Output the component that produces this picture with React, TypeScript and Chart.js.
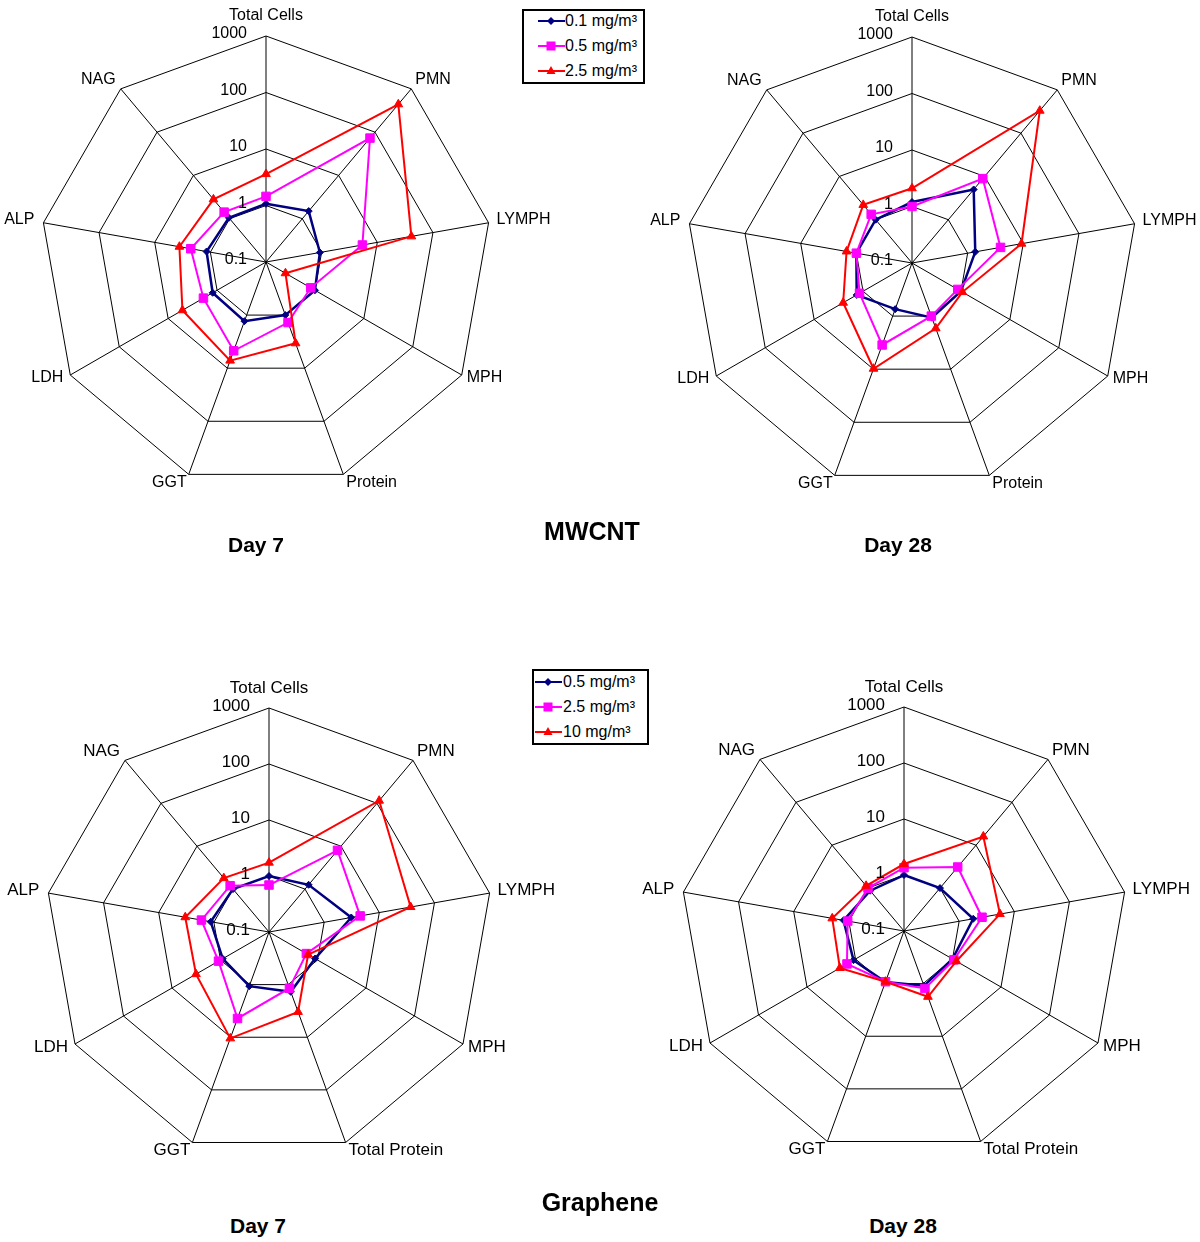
import React, { useEffect, useRef } from "react";
import { Chart, registerables } from "chart.js";

Chart.register(...registerables);

// ---------- data ----------
const CATEGORIES_MWCNT = ["Total Cells", "PMN", "LYMPH", "MPH", "Protein", "GGT", "LDH", "ALP", "NAG"];
const CATEGORIES_GRAPHENE = ["Total Cells", "PMN", "LYMPH", "MPH", "Total Protein", "GGT", "LDH", "ALP", "NAG"];

const TICK_VALUES = [0.1, 1, 10, 100, 1000];

const LEGEND_MWCNT = ["0.1 mg/m³", "0.5 mg/m³", "2.5 mg/m³"];
const LEGEND_GRAPHENE = ["0.5 mg/m³", "2.5 mg/m³", "10 mg/m³"];

// MWCNT, Day 7
const MWCNT_D7_LOW = [1.07, 1.5, 0.93, 1.0, 1.0, 1.3, 1.23, 1.17, 1.05];
const MWCNT_D7_MID = [1.45, 73, 5.4, 0.82, 1.38, 4.7, 1.9, 2.25, 1.42];
const MWCNT_D7_HIGH = [3.6, 440, 41, 0.25, 3.4, 7.2, 5.1, 3.6, 2.8];

// MWCNT, Day 28
const MWCNT_D28_LOW = [1.2, 5.0, 1.37, 1.0, 1.07, 0.74, 1.35, 1.0, 1.0];
const MWCNT_D28_MID = [1.0, 8.9, 3.9, 0.86, 1.0, 3.5, 1.18, 1.0, 1.33];
const MWCNT_D28_HIGH = [2.1, 330, 9.3, 1.07, 1.7, 9.8, 2.55, 1.5, 2.2];

// Graphene, Day 7
const GRAPHENE_D7_LOW = [1.0, 1.26, 3.1, 0.89, 1.37, 1.07, 0.9, 1.14, 1.0];
const GRAPHENE_D7_MID = [0.69, 8.0, 4.5, 0.59, 1.17, 4.4, 1.1, 1.68, 1.2];
const GRAPHENE_D7_HIGH = [1.73, 115, 37, 0.64, 3.3, 10.5, 3.2, 3.3, 1.8];

// Graphene, Day 28
const GRAPHENE_D28_LOW = [1.0, 1.0, 1.8, 1.0, 1.1, 0.93, 1.1, 1.25, 0.87];
const GRAPHENE_D28_MID = [1.35, 3.1, 2.6, 1.07, 1.24, 0.92, 1.5, 1.05, 1.0];
const GRAPHENE_D28_HIGH = [1.57, 16, 5.5, 1.2, 1.78, 0.92, 2.1, 2.0, 1.13];

// ---------- styles ----------
const FONT = '"Liberation Sans", Arial, Helvetica, sans-serif';
const SERIES_STYLE = [
  { color: "#000080", pointStyle: "rectRot", radius: 3.5, width: 2.5, order: 2 },
  { color: "#FF00FF", pointStyle: "rect", radius: 6, width: 2, order: 1 },
  { color: "#FF0000", pointStyle: "triangle", radius: 5, width: 2, order: 0 },
];

const LABEL_OFFSETS = [
  { align: "center", dx: 0, dy: -20 },
  { align: "left", dx: 4, dy: -9 },
  { align: "left", dx: 8, dy: -3 },
  { align: "left", dx: 5, dy: 3 },
  { align: "left", dx: 3, dy: 8 },
  { align: "right", dx: -2, dy: 8 },
  { align: "right", dx: -7, dy: 3 },
  { align: "right", dx: -9, dy: -3 },
  { align: "right", dx: -5, dy: -9 },
];

const logLabelsPlugin = {
  id: "logLabels",
  afterDraw(chart: any, _args: any, opts: any) {
    const s = chart.scales.r;
    const ctx = chart.ctx;
    ctx.save();
    ctx.fillStyle = "#000";
    ctx.font = `${opts.fontSize}px ${FONT}`;
    ctx.textBaseline = "middle";
    ctx.textAlign = "right";
    TICK_VALUES.forEach((v) => {
      const d = s.getDistanceFromCenterForValue(Math.log10(v));
      ctx.fillText(String(v), s.xCenter - 19, s.yCenter - d - 2);
    });
    chart.data.labels.forEach((lab: string, i: number) => {
      const p = s.getPointPosition(i, s.drawingArea);
      const o = LABEL_OFFSETS[i];
      ctx.textAlign = o.align;
      ctx.fillText(lab, p.x + o.dx, p.y + o.dy);
    });
    ctx.restore();
  },
};

const W = 600;
const H = 560;

function RadarPanel(props: {
  cx: number;
  cy: number;
  radius: number;
  fontSize: number;
  categories: string[];
  names: string[];
  series: number[][];
}) {
  const ref = useRef<HTMLCanvasElement | null>(null);
  const { cx, cy, radius, fontSize, categories, names, series } = props;
  useEffect(() => {
    const padX = (W - 2 * radius) / 2;
    const padY = (H - 2 * radius) / 2;
    const chart = new Chart(ref.current as HTMLCanvasElement, {
      type: "radar",
      data: {
        labels: categories,
        datasets: series.map((vals, k) => ({
          label: names[k],
          data: vals.map((v) => Math.log10(v)),
          borderColor: SERIES_STYLE[k].color,
          backgroundColor: SERIES_STYLE[k].color,
          pointBackgroundColor: SERIES_STYLE[k].color,
          pointBorderColor: SERIES_STYLE[k].color,
          pointStyle: SERIES_STYLE[k].pointStyle as any,
          pointRadius: SERIES_STYLE[k].radius,
          pointBorderWidth: 1,
          borderWidth: SERIES_STYLE[k].width,
          order: SERIES_STYLE[k].order,
          fill: false,
          tension: 0,
        })),
      },
      options: {
        responsive: false,
        maintainAspectRatio: false,
        animation: false,
        layout: { padding: { left: padX, right: padX, top: padY, bottom: padY } },
        plugins: {
          legend: { display: false },
          tooltip: { enabled: false },
          logLabels: { fontSize },
        } as any,
        scales: {
          r: {
            min: -1,
            max: 3,
            beginAtZero: false,
            ticks: { display: false, stepSize: 1 },
            grid: { color: "#000", lineWidth: 1, circular: false },
            angleLines: { display: true, color: "#000", lineWidth: 1 },
            pointLabels: { display: false },
          },
        },
      },
      plugins: [logLabelsPlugin],
    });
    return () => chart.destroy();
  }, []);
  return (
    <canvas
      ref={ref}
      width={W}
      height={H}
      style={{ position: "absolute", left: cx - W / 2, top: cy - H / 2, width: W, height: H }}
    />
  );
}

function Marker({ k }: { k: number }) {
  const c = SERIES_STYLE[k].color;
  const y = 6;
  const x = 13;
  let shape;
  if (k === 0) shape = <polygon points={`${x},${y - 4} ${x + 4},${y} ${x},${y + 4} ${x - 4},${y}`} fill={c} />;
  else if (k === 1) shape = <rect x={x - 4.5} y={y - 4.5} width={9} height={9} fill={c} />;
  else shape = <polygon points={`${x},${y - 5} ${x + 4.5},${y + 3} ${x - 4.5},${y + 3}`} fill={c} />;
  return (
    <svg width={27} height={12} style={{ display: "block" }}>
      <line x1={0} y1={y} x2={27} y2={y} stroke={c} strokeWidth={2} />
      {shape}
    </svg>
  );
}

function Legend(props: { left: number; top: number; width: number; height: number; names: string[]; rowY: number[]; lineX: number; textX: number }) {
  const { left, top, width, height, names, rowY, lineX, textX } = props;
  return (
    <div
      style={{
        position: "absolute",
        left,
        top,
        width,
        height,
        boxSizing: "border-box",
        border: "2px solid #000",
        background: "#fff",
        zIndex: 5,
      }}
    >
      {names.map((n, k) => (
        <div key={k}>
          <div style={{ position: "absolute", left: lineX, top: rowY[k] - 6 }}>
            <Marker k={k} />
          </div>
          <div
            style={{
              position: "absolute",
              left: textX,
              top: rowY[k] - 10,
              height: 20,
              lineHeight: "20px",
              fontSize: 16,
              fontFamily: FONT,
              whiteSpace: "nowrap",
              color: "#000",
            }}
          >
            {n}
          </div>
        </div>
      ))}
    </div>
  );
}

function Title({ x, y, text, size }: { x: number; y: number; text: string; size: number }) {
  return (
    <div
      style={{
        position: "absolute",
        left: x,
        top: y,
        transform: "translate(-50%, -50%)",
        fontFamily: FONT,
        fontWeight: "bold",
        fontSize: size,
        whiteSpace: "nowrap",
        color: "#000",
        zIndex: 6,
      }}
    >
      {text}
    </div>
  );
}

export default function App() {
  return (
    <div
      style={{
        position: "absolute",
        left: 0,
        top: 0,
        width: 1200,
        height: 1242,
        overflow: "hidden",
        background: "#fff",
      }}
    >
      <RadarPanel cx={266} cy={262} radius={226} fontSize={16} categories={CATEGORIES_MWCNT} names={LEGEND_MWCNT}
        series={[MWCNT_D7_LOW, MWCNT_D7_MID, MWCNT_D7_HIGH]} />
      <RadarPanel cx={912} cy={263} radius={226} fontSize={16} categories={CATEGORIES_MWCNT} names={LEGEND_MWCNT}
        series={[MWCNT_D28_LOW, MWCNT_D28_MID, MWCNT_D28_HIGH]} />
      <RadarPanel cx={269} cy={932} radius={224} fontSize={17} categories={CATEGORIES_GRAPHENE} names={LEGEND_GRAPHENE}
        series={[GRAPHENE_D7_LOW, GRAPHENE_D7_MID, GRAPHENE_D7_HIGH]} />
      <RadarPanel cx={904} cy={931} radius={224} fontSize={17} categories={CATEGORIES_GRAPHENE} names={LEGEND_GRAPHENE}
        series={[GRAPHENE_D28_LOW, GRAPHENE_D28_MID, GRAPHENE_D28_HIGH]} />

      <Legend left={522} top={9} width={123} height={75} names={LEGEND_MWCNT} rowY={[10, 35, 60]} lineX={14} textX={41} />
      <Legend left={532} top={669} width={117} height={76} names={LEGEND_GRAPHENE} rowY={[11, 36, 61]} lineX={1} textX={29} />

      <Title x={592} y={531} text="MWCNT" size={25} />
      <Title x={256} y={545} text="Day 7" size={21} />
      <Title x={898} y={545} text="Day 28" size={21} />
      <Title x={600} y={1202} text="Graphene" size={25} />
      <Title x={258} y={1226} text="Day 7" size={21} />
      <Title x={903} y={1226} text="Day 28" size={21} />
    </div>
  );
}
